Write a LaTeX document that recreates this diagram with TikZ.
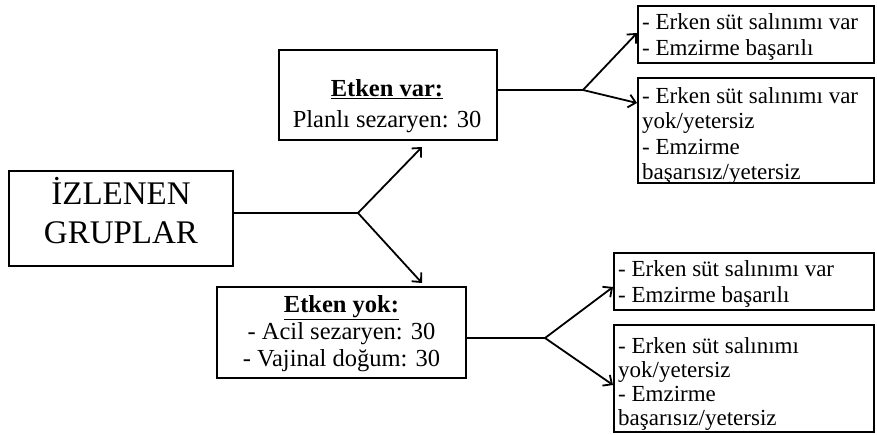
\documentclass[tikz,border=0pt]{standalone}
\usepackage{fontspec}
\setmainfont{Liberation Serif}[BoldFont={Liberation Serif Bold}]
\usetikzlibrary{arrows.meta}
\begin{document}
\begin{tikzpicture}[x=1pt,y=-1pt,
  box/.style={draw,line width=1.8pt,inner sep=0pt,outer sep=0pt},
  txt/.style={inner sep=0pt},
  conn/.style={line width=1.8pt},
  arr/.style={line width=1.8pt,-{Straight Barb[length=7pt,width=13pt,line width=1.8pt]}},
  rfont/.style={font=\fontsize{23}{25.5}\selectfont}]
\useasboundingbox (0,0) rectangle (877,434);
% boxes
\node[box,minimum width=224pt,minimum height=95pt] (iz) at (121,218.5) {};
\node[txt,align=center,font=\fontsize{33}{39}\selectfont] (izt) at (121,211) {İZLENEN\\GRUPLAR};
\node[box,minimum width=218pt,minimum height=90pt] (var) at (388,95) {};
\node[txt,align=center,font=\fontsize{24.5}{31}\selectfont] (vart) at (387,106) {\underline{\textbf{Etken var:}}\\Planlı sezaryen: 30};
\node[box,minimum width=249pt,minimum height=91pt] (yok) at (341.5,332.5) {};
\node[txt,align=center,font=\fontsize{24.5}{27}\selectfont] (yokt) at (341.5,334) {\underline{\textbf{Etken yok:}}\\- Acil sezaryen: 30\\- Vajinal doğum: 30};
\node[box,minimum width=236pt,minimum height=57pt] (r1) at (756,34.5) {};
\node[txt,anchor=west,align=left,rfont] (r1t) at (642,37) {- Erken süt salınımı var\\- Emzirme başarılı};
\node[box,minimum width=236pt,minimum height=105pt] (r2) at (756,130.5) {};
\node[txt,anchor=west,align=left,rfont] (r2t) at (642,136) {- Erken süt salınımı var\\yok/yetersiz\\- Emzirme\\başarısız/yetersiz};
\node[box,minimum width=260pt,minimum height=57pt] (r3) at (744,281.5) {};
\node[txt,anchor=west,align=left,rfont] (r3t) at (618,284) {- Erken süt salınımı var\\- Emzirme başarılı};
\node[box,minimum width=260pt,minimum height=107pt] (r4) at (744,378.5) {};
\node[txt,anchor=west,align=left,font=\fontsize{23}{24}\selectfont] (r4t) at (618,384) {- Erken süt salınımı\\yok/yetersiz\\- Emzirme\\başarısız/yetersiz};
% junctions and arrow targets
\coordinate (j1) at (358,213);
\coordinate (t1) at (422,147);
\coordinate (t2) at (422,283);
\coordinate (j2) at (583,90);
\coordinate (t3) at (637,33);
\coordinate (t4) at (637,103);
\coordinate (j3) at (545,338);
\coordinate (t5) at (613,287);
\coordinate (t6) at (613,385);
% connectors
\draw[conn] (iz.east |- j1) -- (j1);
\draw[arr] (j1) -- (t1);
\draw[arr] (j1) -- (t2);
\draw[conn] (var.east |- j2) -- (j2);
\draw[arr] (j2) -- (t3);
\draw[arr] (j2) -- (t4);
\draw[conn] (yok.east |- j3) -- (j3);
\draw[arr] (j3) -- (t5);
\draw[arr] (j3) -- (t6);
\end{tikzpicture}
\end{document}
